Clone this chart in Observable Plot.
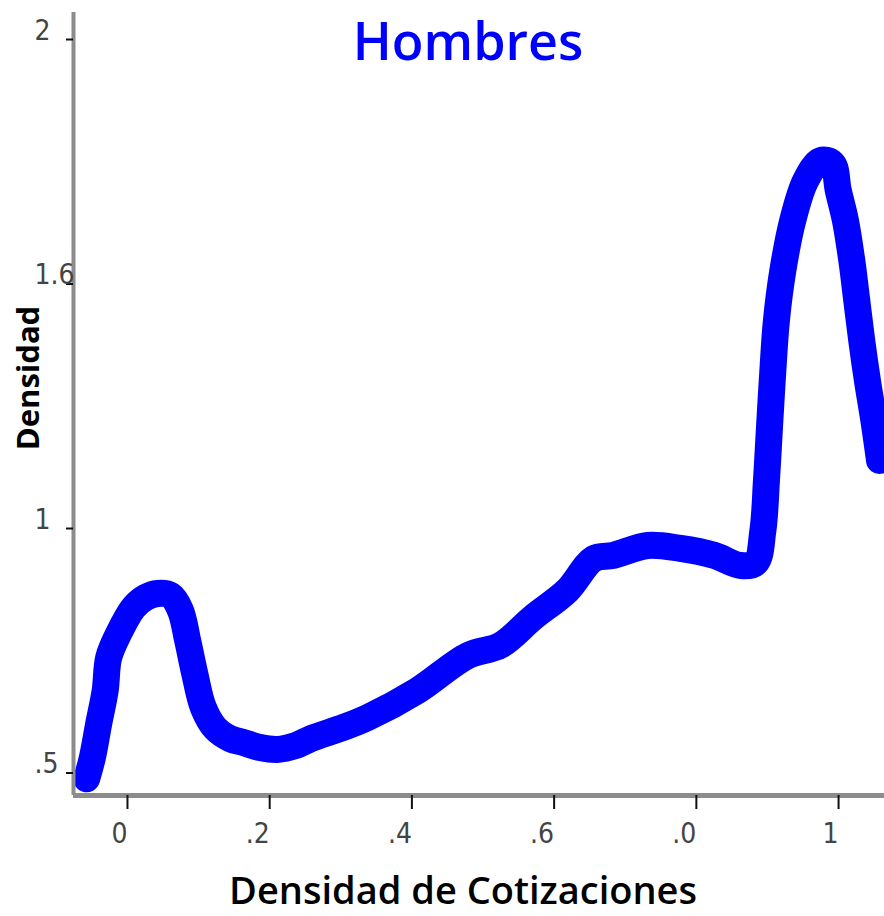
<!DOCTYPE html>
<html>
<head>
<meta charset="utf-8">
<script src="https://cdn.jsdelivr.net/npm/d3@7"></script>
<script src="https://cdn.jsdelivr.net/npm/@observablehq/plot@0.6"></script>
<style>
  html, body { margin: 0; padding: 0; background: #fff; }
  #chart svg { display: block; }
</style>
</head>
<body>
<div id="chart"></div>
<script>
// Tick values and their printed labels (as they appear in the reference)
const xTicks = [0, 0.2, 0.4, 0.6, 0.8, 1];
const xTickLabels = ["0", ".2", ".4", ".6", ".0", "1"];
const yTicks = [0.5, 1, 1.5, 2];
const yTickLabels = [".5", "1", "1.6", "2"];

// Density curve (Hombres)
const densX = [-0.056, -0.048, -0.039, -0.030, -0.025, -0.011, 0.010, 0.027, 0.044, 0.062,
  0.076, 0.086, 0.096, 0.108, 0.125, 0.146, 0.165, 0.188, 0.212, 0.238,
  0.259, 0.305, 0.339, 0.409, 0.480, 0.526, 0.572, 0.620, 0.657, 0.685,
  0.733, 0.779, 0.826, 0.864, 0.885, 0.895, 0.900, 0.904, 0.909, 0.914,
  0.923, 0.937, 0.955, 0.976, 0.993, 1.001, 1.011, 1.020, 1.027, 1.034,
  1.042, 1.051, 1.059];
const densY = [0.478, 0.521, 0.591, 0.658, 0.726, 0.775, 0.828, 0.849, 0.857, 0.853,
  0.822, 0.761, 0.693, 0.624, 0.581, 0.560, 0.552, 0.542, 0.538, 0.546,
  0.560, 0.583, 0.603, 0.658, 0.730, 0.751, 0.808, 0.863, 0.928, 0.935,
  0.955, 0.949, 0.935, 0.914, 0.920, 0.986, 1.088, 1.190, 1.313, 1.415,
  1.517, 1.620, 1.701, 1.742, 1.736, 1.681, 1.620, 1.538, 1.456, 1.374,
  1.292, 1.211, 1.129];

const title = "Hombres";
const xTitle = "Densidad de Cotizaciones";
const yTitle = "Densidad";

const data = densX.map((x, i) => ({x, y: densY[i]}));
const xDomain = [-0.0745, 1.066];
const yDomain = [0.4438, 2.045];
const tickFont = "'Liberation Sans Narrow', 'DejaVu Sans Condensed', 'Arial Narrow', sans-serif";
const textFont = "'Open Sans', 'Noto Sans', sans-serif";

const chart = Plot.plot({
  width: 884,
  height: 916,
  marginLeft: 73,
  marginRight: 0,
  marginTop: 12,
  marginBottom: 121,
  style: {background: "#fff", overflow: "visible"},
  x: {domain: xDomain},
  y: {domain: yDomain},
  marks: [
    Plot.line(data, {x: "x", y: "y", stroke: "#0000ff", strokeWidth: 27, curve: "catmull-rom"}),
    Plot.ruleX([xDomain[0]], {stroke: "#8c8c8c", strokeWidth: 4}),
    Plot.ruleY([yDomain[0]], {stroke: "#8c8c8c", strokeWidth: 5, x1: xDomain[0], x2: xDomain[1]}),
    Plot.axisX(xTicks, {
      tickSize: 14, tickPadding: 14, stroke: "#111", strokeWidth: 2,
      tickFormat: (d, i) => xTickLabels[i], textAnchor: "end", dx: 1,
      fontSize: 28, fontFamily: tickFont, fill: "#444", label: null
    }),
    Plot.axisY(yTicks, {
      tickSize: 7, tickPadding: 32, stroke: "#111", strokeWidth: 2,
      tickFormat: (d, i) => yTickLabels[i], textAnchor: "start", lineAnchor: "bottom", dy: 5,
      fontSize: 28, fontFamily: tickFont, fill: "#444", label: null
    }),
    Plot.text([title], {
      frameAnchor: "top", text: d => d, textAnchor: "middle", lineAnchor: "top", dy: 11, dx: -11,
      fontSize: 52, fontFamily: textFont, fontWeight: 600, fill: "#0000ff"
    }),
    Plot.text([xTitle], {
      frameAnchor: "bottom", text: d => d, textAnchor: "middle", lineAnchor: "top", dy: 82, dx: -16,
      fontSize: 38, fontFamily: textFont, fontWeight: 600, fill: "#000"
    }),
    Plot.text([yTitle], {
      frameAnchor: "left", text: d => d, rotate: -90, textAnchor: "middle", lineAnchor: "top", dx: -57, dy: -26,
      fontSize: 31, fontFamily: textFont, fontWeight: 700, fill: "#000"
    })
  ]
});
document.getElementById("chart").appendChild(chart);
</script>
</body>
</html>
